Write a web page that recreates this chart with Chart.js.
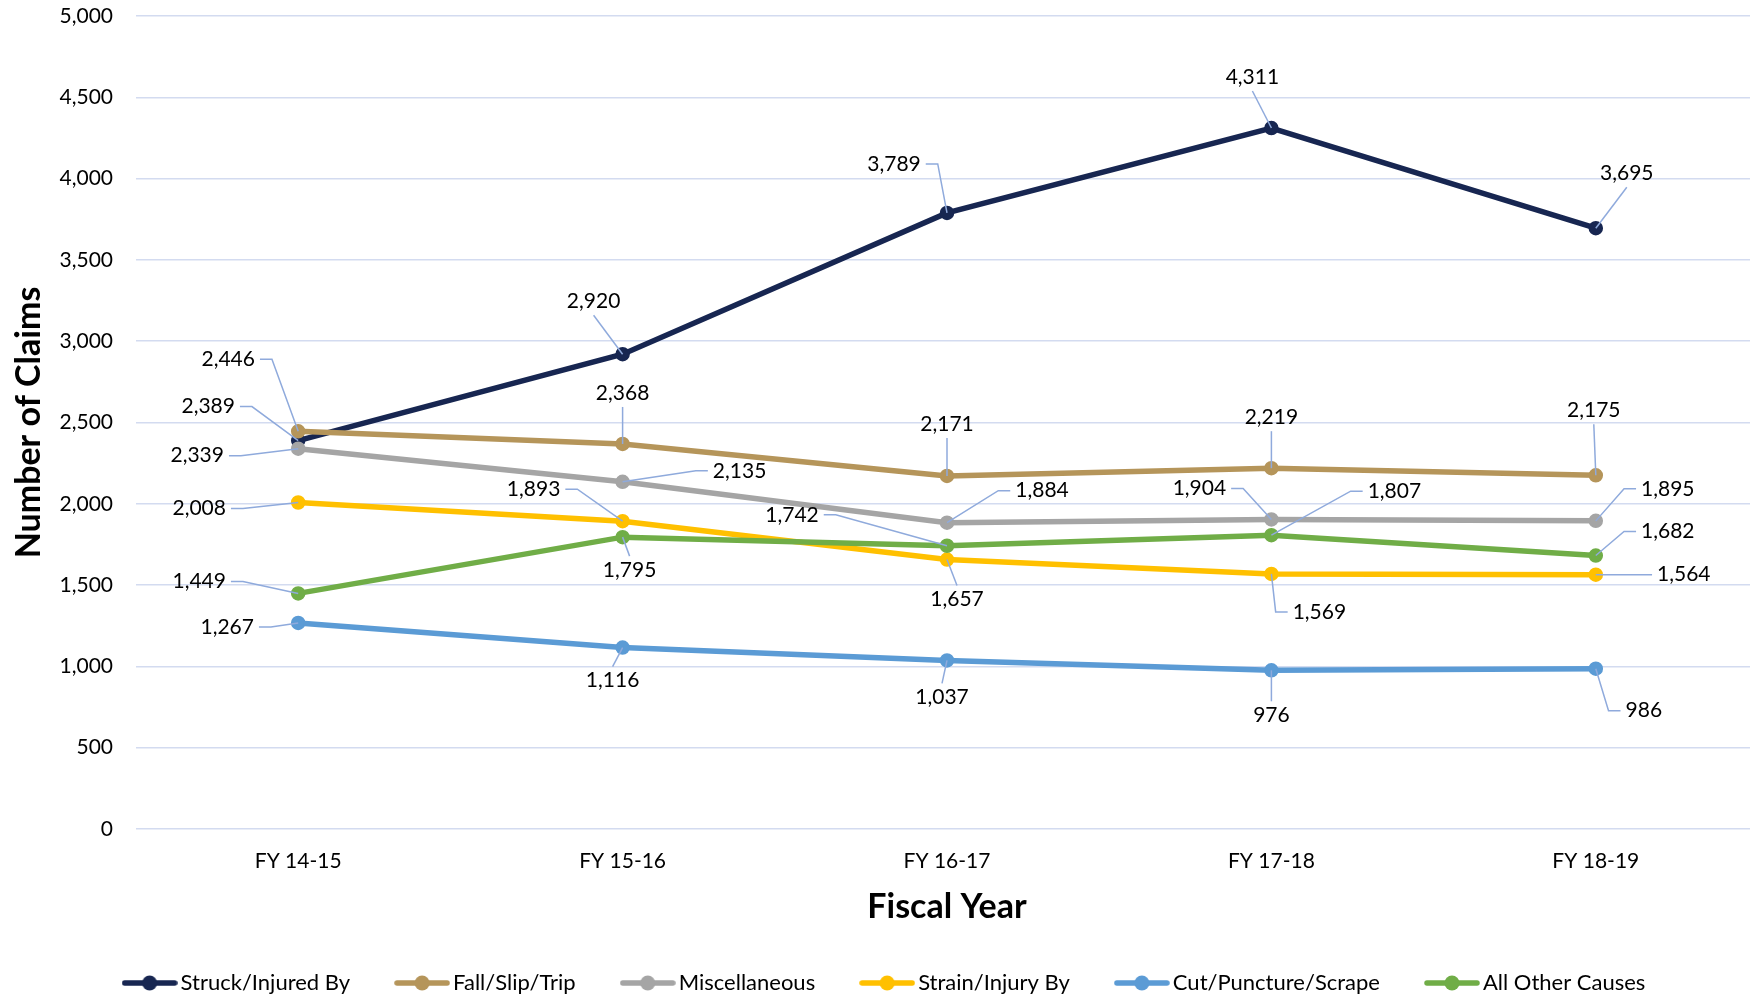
<!DOCTYPE html>
<html><head><meta charset="utf-8">
<script src="https://cdn.jsdelivr.net/npm/chart.js@4/dist/chart.umd.min.js"></script>
<style>html,body{margin:0;padding:0;overflow:hidden;background:#fff}canvas{display:block}</style>
</head><body><canvas id="c" width="1766" height="1000" style="width:1766px;height:1000px"></canvas>
<script>
const categories = ['FY 14-15','FY 15-16','FY 16-17','FY 17-18','FY 18-19'];
const seriesNames = ['Struck/Injured By','Fall/Slip/Trip','Miscellaneous','Strain/Injury By','Cut/Puncture/Scrape','All Other Causes'];
const struckInjuredBy   = [2389, 2920, 3789, 4311, 3695];
const fallSlipTrip      = [2446, 2368, 2171, 2219, 2175];
const miscellaneous     = [2339, 2135, 1884, 1904, 1895];
const strainInjuryBy    = [2008, 1893, 1657, 1569, 1564];
const cutPunctureScrape = [1267, 1116, 1037,  976,  986];
const allOtherCauses    = [1449, 1795, 1742, 1807, 1682];
const yAxisMin = 0, yAxisMax = 5000, yAxisStep = 500;

// label placement (pixel offsets from each point), kept separate from data
const labelOffsets = [
  [[-90,-34],[-29,-53],[-53,-49],[-19,-51],[31,-55]],
  [[-70,-72],[0,-51],[0,-52],[0,-51],[-2,-65]],
  [[-101,7],[117,-11],[95,-32],[-72,-31],[72,-32]],
  [[-99,6],[-89,-32],[10,40],[48,38],[88,0]],
  [[-71,4],[-10,33],[-5,37],[0,45],[48,42]],
  [[-99,-12],[7,33],[-155,-31],[123,-44],[72,-24]]
];

const seriesData = [struckInjuredBy, fallSlipTrip, miscellaneous, strainInjuryBy, cutPunctureScrape, allOtherCauses];
const colors = ['#172651','#B5955A','#A5A5A5','#FFC000','#5B9BD5','#70AD47'];
const gridColor = '#D3DBF0';
const leaderColor = '#8FAADC';

function makeMarker(color){
  const c = document.createElement('canvas');
  c.width = 56; c.height = 16;
  const g = c.getContext('2d');
  g.strokeStyle = color; g.lineWidth = 5.5; g.lineCap = 'round';
  g.beginPath(); g.moveTo(3,8); g.lineTo(53,8); g.stroke();
  g.fillStyle = color; g.beginPath(); g.arc(28,8,7.5,0,Math.PI*2); g.fill();
  return c;
}
const markers = colors.map(makeMarker);

const labelPlugin = {
  id: 'pointLabels',
  afterDatasetsDraw(chart) {
    const ctx = chart.ctx;
    ctx.save();
    ctx.font = '21px Lato';
    ctx.textAlign = 'center'; ctx.textBaseline = 'middle';
    chart.data.datasets.forEach((ds, i) => {
      const meta = chart.getDatasetMeta(i);
      meta.data.forEach((pt, j) => {
        const [dx, dy] = labelOffsets[i][j];
        const px = pt.x, py = pt.y;
        const lx = px + dx, ly = py + dy;
        const text = ds.data[j].toLocaleString('en-US');
        const w = ctx.measureText(text).width;
        ctx.strokeStyle = leaderColor; ctx.lineWidth = 1.5;
        ctx.beginPath();
        if (Math.abs(dx) > w/2 + 8) {
          const s = dx > 0 ? -1 : 1;
          const ex = lx + s*(w/2 + 5);
          let ex2 = ex + s*12;
          if ((s > 0 && ex2 > px) || (s < 0 && ex2 < px)) ex2 = px;
          ctx.moveTo(ex, ly); ctx.lineTo(ex2, ly); ctx.lineTo(px, py);
        } else {
          const ey = dy < 0 ? ly + 14 : ly - 14;
          ctx.moveTo(lx, ey); ctx.lineTo(px, py);
        }
        ctx.stroke();
        ctx.fillStyle = '#000';
        ctx.fillText(text, lx, ly);
      });
    });
    ctx.restore();
  }
};

function build(){
  new Chart(document.getElementById('c'), {
    type: 'line',
    data: {
      labels: categories,
      datasets: seriesData.map((d, i) => ({
        label: seriesNames[i], data: d,
        borderColor: colors[i], backgroundColor: colors[i],
        pointBackgroundColor: colors[i], pointBorderColor: colors[i],
        borderWidth: 5.5, pointRadius: 6.5, pointBorderWidth: 1.5, pointHoverRadius: 6.5,
        tension: 0, order: seriesData.length - i
      }))
    },
    options: {
      responsive: false, animation: false,
      events: [],
      layout: { padding: { top: 16, left: 9, right: 0, bottom: -4 } },
      plugins: {
        legend: {
          position: 'bottom',
          labels: {
            usePointStyle: true, pointStyleWidth: 40, padding: 52,
            font: { family: 'Lato', size: 22 }, color: '#000',
            generateLabels: (chart) => chart.data.datasets.map((ds, i) => ({
              text: ds.label, pointStyle: markers[i], fillStyle: ds.borderColor,
              strokeStyle: ds.borderColor, lineWidth: 0, hidden: false, datasetIndex: i
            }))
          }
        },
        tooltip: { enabled: false }
      },
      scales: {
        x: {
          offset: true,
          grid: { display: false }, border: { display: false },
          ticks: { padding: 12, font: { family: 'Lato', size: 21 }, color: '#000' },
          title: { display: true, text: 'Fiscal Year', font: { family: 'Lato', size: 34, weight: 'bold' }, color: '#000', padding: { top: 0, bottom: -7 } },
          afterFit(s) { s.height = 91; }
        },
        y: {
          min: yAxisMin, max: yAxisMax,
          ticks: { stepSize: yAxisStep, padding: 23, font: { family: 'Lato', size: 21 }, color: '#000',
                   callback: v => Number(v).toLocaleString('en-US') },
          grid: { color: gridColor, lineWidth: 1.5, drawTicks: false },
          border: { display: false },
          title: { display: true, text: 'Number of Claims', font: { family: 'Lato', size: 34, weight: 'bold' }, color: '#000', padding: { top: 0, bottom: 0 } },
          afterFit(s) { s.width = 127; s.paddingTop = 0; }
        }
      }
    },
    plugins: [labelPlugin]
  });
}
Promise.all([document.fonts.load('21px Lato'), document.fonts.load('bold 34px Lato')]).then(build, build);
</script>
</body></html>
